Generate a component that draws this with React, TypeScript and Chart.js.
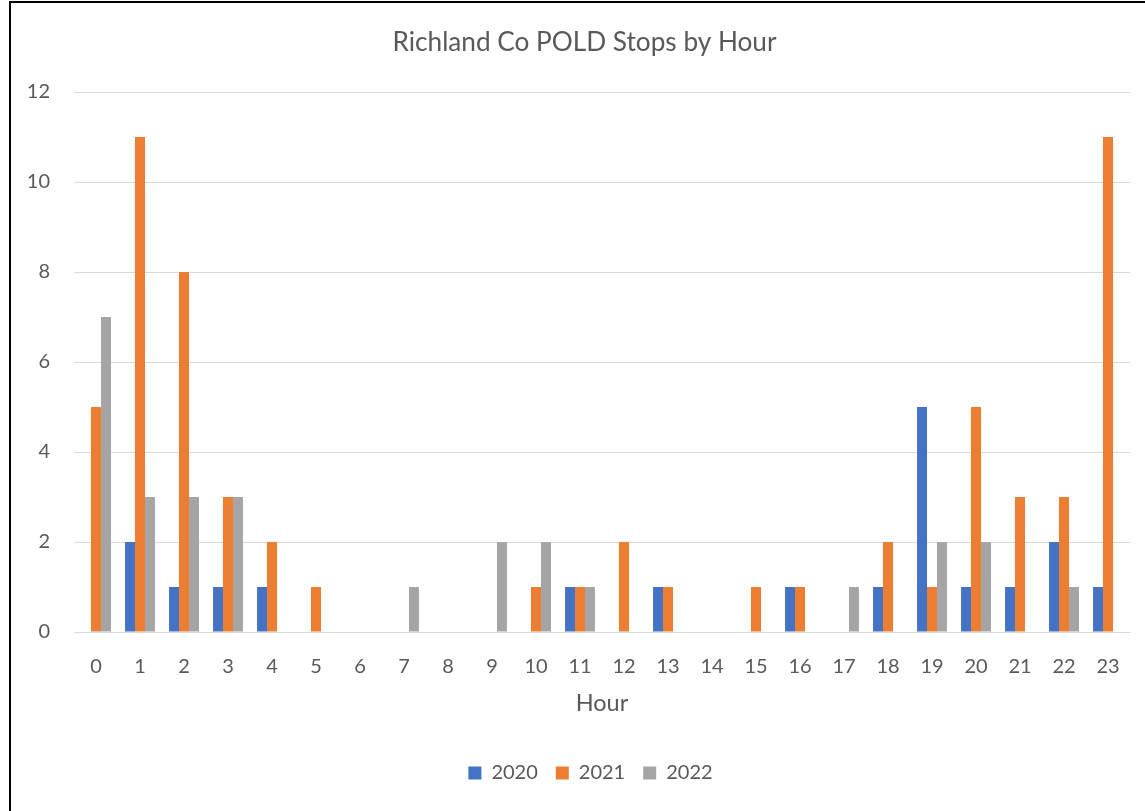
import React, { useEffect, useRef } from "react";
import { Chart, registerables } from "chart.js";

Chart.register(...registerables);

const hours = ["0","1","2","3","4","5","6","7","8","9","10","11","12","13","14","15","16","17","18","19","20","21","22","23"];
const stops2020 = [0,2,1,1,1,0,0,0,0,0,0,1,0,1,0,0,1,0,1,5,1,1,2,1];
const stops2021 = [5,11,8,3,2,1,0,0,0,0,1,1,2,1,0,1,1,0,2,1,5,3,3,11];
const stops2022 = [7,3,3,3,0,0,0,1,0,2,2,1,0,0,0,0,0,1,0,2,2,0,1,0];
const seriesLabels = ["2020", "2021", "2022"];

const FONT = "Lato, 'Open Sans', sans-serif";
const TEXT = "#595959";

const shiftPlugin = {
  id: "shiftTitleLegend",
  afterLayout(chart: any) {
    if (chart.titleBlock) {
      chart.titleBlock.left += 19.5;
      chart.titleBlock.right += 19.5;
    }
    if (chart.legend) {
      chart.legend.left += 25.5;
      chart.legend.right += 25.5;
    }
  },
};

export default function App() {
  const ref = useRef<HTMLCanvasElement | null>(null);
  useEffect(() => {
    if (!ref.current) return;
    const chart = new Chart(ref.current, {
      type: "bar",
      data: {
        labels: hours,
        datasets: [
          { label: seriesLabels[0], data: stops2020, backgroundColor: "#4472C4" },
          { label: seriesLabels[1], data: stops2021, backgroundColor: "#ED7D31" },
          { label: seriesLabels[2], data: stops2022, backgroundColor: "#A5A5A5" },
        ],
      },
      plugins: [shiftPlugin],
      options: {
        animation: false,
        responsive: false,
        maintainAspectRatio: false,
        layout: { padding: { left: 0, right: 15, top: 0, bottom: 18 } },
        datasets: { bar: { barPercentage: 1, categoryPercentage: 0.68 } },
        plugins: {
          title: {
            display: true,
            text: "Richland Co POLD Stops by Hour",
            color: TEXT,
            font: { family: FONT, size: 26.2, weight: "normal" },
            padding: { top: 26.4, bottom: 34.2 },
          },
          legend: {
            position: "bottom",
            labels: {
              color: TEXT,
              font: { family: FONT, size: 20 },
              boxWidth: 13,
              boxHeight: 13,
              padding: 18,
            },
          },
          tooltip: { enabled: false },
        },
        scales: {
          x: {
            grid: { display: false, drawTicks: false },
            border: { color: "#D9D9D9", width: 1 },
            ticks: { color: TEXT, font: { family: FONT, size: 20 }, padding: 23, maxRotation: 0, autoSkip: false },
            title: {
              display: true,
              text: "Hour",
              color: TEXT,
              font: { family: FONT, size: 23.5 },
              padding: { top: 0, bottom: 27.9 },
            },
            afterFit: (scale: any) => { scale.height = 113; },
          },
          y: {
            min: 0,
            max: 12,
            ticks: { stepSize: 2, color: TEXT, font: { family: FONT, size: 20 }, padding: 24 },
            grid: { color: "#D9D9D9", drawTicks: false },
            border: { display: false },
            afterFit: (scale: any) => { scale.width = 74; },
          },
        },
      },
    });
    return () => chart.destroy();
  }, []);

  return (
    <div style={{ position: "absolute", left: 0, top: 0, width: 1145, height: 811, background: "#fff", overflow: "hidden" }}>
      <div style={{ position: "absolute", left: 9, top: 1, width: 1200, height: 900, borderTop: "2px solid #000", borderLeft: "2px solid #000" }} />
      <canvas ref={ref} width={1145} height={811} style={{ position: "absolute", left: 0, top: 0 }} />
    </div>
  );
}
